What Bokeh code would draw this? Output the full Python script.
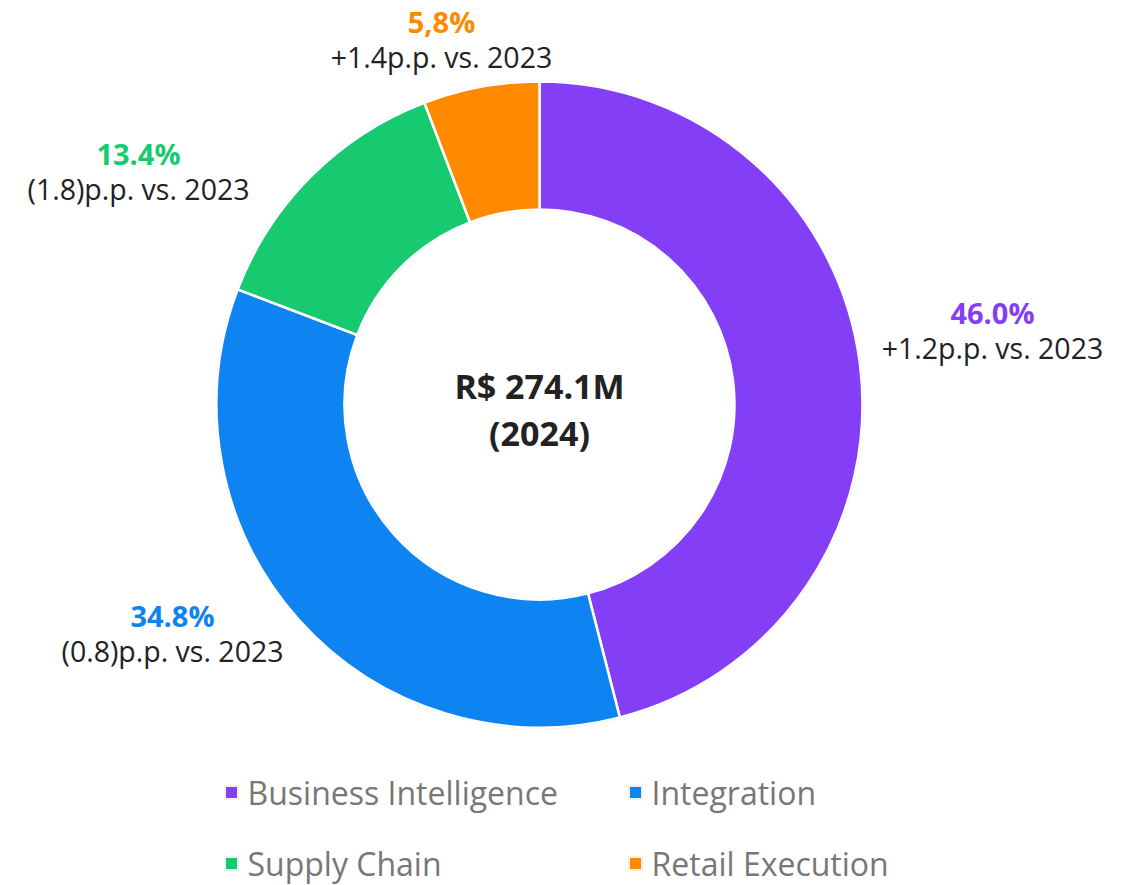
import math
from bokeh.plotting import figure
from bokeh.models import Range1d, ColumnDataSource
from bokeh.core.properties import value
from bokeh.embed import file_html
from bokeh.resources import INLINE

categories = ["Business Intelligence", "Integration", "Supply Chain", "Retail Execution"]
shares = [46.0, 34.8, 13.4, 5.8]
share_labels = ["46.0%", "34.8%", "13.4%", "5,8%"]
deltas = ["+1.2p.p. vs. 2023", "(0.8)p.p. vs. 2023", "(1.8)p.p. vs. 2023", "+1.4p.p. vs. 2023"]
colors = ["#833EF6", "#0E84F3", "#17C96F", "#FF8A00"]
total_label = "R$ 274.1M"
year_label = "(2024)"

W, H = 1135, 885
FONT = "Open Sans"

def sx(x):
    return x

def sy(y):
    return H - y

p = figure(width=W, height=H, output_backend="svg", toolbar_location=None,
           x_range=Range1d(0, W), y_range=Range1d(0, H), min_border=0,
           outline_line_color=None)
p.axis.visible = False
p.grid.visible = False
p.background_fill_color = "white"
p.border_fill_color = "white"

cx, cy = sx(539), sy(404)
r_out, r_in = 323, 195

total = sum(shares)
starts, ends = [], []
cum = 0.0
for s in shares:
    a0 = math.pi / 2 - 2 * math.pi * (cum + s) / total
    a1 = math.pi / 2 - 2 * math.pi * cum / total
    starts.append(a0)
    ends.append(a1)
    cum += s

src = ColumnDataSource(dict(cat=categories, start=starts, end=ends, color=colors))
# soft outer halo
p.annulus(x=cx, y=cy, inner_radius=r_in - 1.5, outer_radius=r_out + 1.5,
          fill_color="#EBEBEB", line_color=None)
p.annular_wedge(x=cx, y=cy, inner_radius=r_in, outer_radius=r_out,
                start_angle="start", end_angle="end", fill_color="color",
                line_color="white", line_width=2.5, source=src)

# data labels (layout anchors per slice)
label_pos = [(992, 312), (172, 615), (138, 153), (441, 21)]
for (lx, ly), sl, d, c in zip(label_pos, share_labels, deltas, colors):
    p.text(x=[sx(lx)], y=[sy(ly)], text=[sl], text_color=c, text_font=value(FONT),
           text_font_size="29px", text_font_style="bold", text_align="center",
           text_baseline="middle")
    p.text(x=[sx(lx)], y=[sy(ly + 35)], text=[d], text_color="#222222",
           text_font=value(FONT), text_font_size="28.5px", text_align="center",
           text_baseline="middle")

# center text
p.text(x=[cx], y=[sy(385)], text=[total_label], text_color="#222222",
       text_font=value(FONT), text_font_size="34px", text_font_style="bold",
       text_align="center", text_baseline="middle")
p.text(x=[cx], y=[sy(432)], text=[year_label], text_color="#222222",
       text_font=value(FONT), text_font_size="34px", text_font_style="bold",
       text_align="center", text_baseline="middle")

# legend
leg_pos = [(231, 792), (635, 792), (231, 863), (635, 863)]
for (lx, ly), cat, c in zip(leg_pos, categories, colors):
    p.scatter(x=[sx(lx)], y=[sy(ly)], marker="square", size=15,
              fill_color="#F0F0F0", line_color=None)
    p.scatter(x=[sx(lx)], y=[sy(ly)], marker="square", size=11,
              fill_color=c, line_color=None)
    p.text(x=[sx(lx + 16)], y=[sy(ly)], text=[cat], text_color="#777777",
           text_font=value(FONT), text_font_size="32px", text_align="left",
           text_baseline="middle")

open("out.html", "w").write(file_html(p, INLINE))
